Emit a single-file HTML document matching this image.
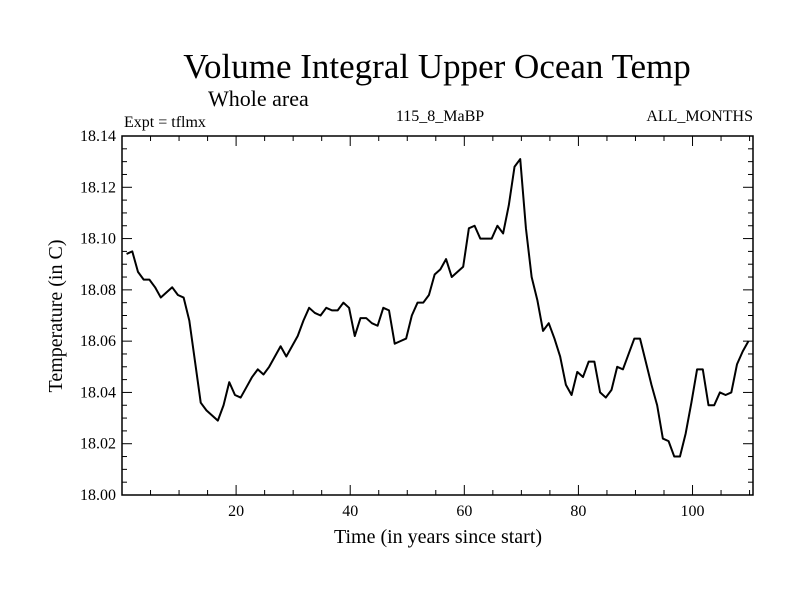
<!DOCTYPE html>
<html><head><meta charset="utf-8"><style>
body{margin:0;background:#fff}
svg text{font-family:"Liberation Serif",serif;fill:#000}
</style></head><body>
<svg id="c" width="800" height="600">
<text x="437" y="78" font-size="35" text-anchor="middle">Volume Integral Upper Ocean Temp</text>
<text x="208" y="106" font-size="22">Whole area</text>
<text x="124" y="127" font-size="16">Expt = tflmx</text>
<text x="440" y="121" font-size="16" text-anchor="middle">115_8_MaBP</text>
<text x="753" y="121" font-size="16" text-anchor="end">ALL_MONTHS</text>
<text x="438" y="543" font-size="20" text-anchor="middle">Time (in years since start)</text>
<text transform="translate(62,316) rotate(-90)" font-size="20" text-anchor="middle">Temperature (in C)</text>
<g id="ax"></g>
</svg>
<script>
const yearsOffset = 0.8;
const temps = [18.094,18.095,18.087,18.084,18.084,18.081,18.077,18.079,18.081,18.078,18.077,18.068,18.052,18.036,18.033,18.031,18.029,18.035,18.044,18.039,18.038,18.042,18.046,18.049,18.047,18.050,18.054,18.058,18.054,18.058,18.062,18.068,18.073,18.071,18.070,18.073,18.072,18.072,18.075,18.073,18.062,18.069,18.069,18.067,18.066,18.073,18.072,18.059,18.060,18.061,18.070,18.075,18.075,18.078,18.086,18.088,18.092,18.085,18.087,18.089,18.104,18.105,18.100,18.100,18.100,18.105,18.102,18.113,18.128,18.131,18.104,18.085,18.076,18.064,18.067,18.061,18.054,18.043,18.039,18.048,18.046,18.052,18.052,18.040,18.038,18.041,18.050,18.049,18.055,18.061,18.061,18.052,18.043,18.035,18.022,18.021,18.015,18.015,18.024,18.036,18.049,18.049,18.035,18.035,18.040,18.039,18.040,18.051,18.056,18.060];
const years = temps.map((_, i) => i + yearsOffset);
const xTicks = [20,40,60,80,100];
const yTicks = [18.00,18.02,18.04,18.06,18.08,18.10,18.12,18.14];
const L=122,R=753,T=136,B=495,X0=0,X1=110.6,Y0=18.0,Y1=18.14;
const sx=v=>L+(v-X0)/(X1-X0)*(R-L);
const sy=v=>B-(v-Y0)/(Y1-Y0)*(B-T);
const NS='http://www.w3.org/2000/svg';
const g=document.getElementById('ax');
function mk(tag,attrs){const e=document.createElementNS(NS,tag);for(const k in attrs)e.setAttribute(k,attrs[k]);g.appendChild(e);return e;}
const fr=mk('rect',{x:L,y:T,width:R-L,height:B-T,fill:'none',stroke:'#000','stroke-width':1.5});


for(let v=5;v<X1;v+=5){const x=sx(v);const len=(v%20===0)?10:5;
 const t1=mk('line',{x1:x,y1:B,x2:x,y2:B-len,stroke:'#000'});
 
 
 const t2=mk('line',{x1:x,y1:T,x2:x,y2:T+len,stroke:'#000'});
 
 }
xTicks.forEach(v=>{const t=mk('text',{x:sx(v),y:B+21,'font-size':16,'text-anchor':'middle'});t.textContent=v;
 
 });
for(let k=1;k<28;k++){const v=Y0+k*0.005;const y=sy(v);const len=(k%4===0)?10:5;
 const t1=mk('line',{x1:L,y1:y,x2:L+len,y2:y,stroke:'#000'});
 
 
 const t2=mk('line',{x1:R,y1:y,x2:R-len,y2:y,stroke:'#000'});
 
 }
yTicks.forEach(v=>{const t=mk('text',{x:L-6,y:sy(v)+5,'font-size':16,'text-anchor':'end'});t.textContent=v.toFixed(2);
 
 });
const p=mk('polyline',{points:years.map((x,i)=>sx(x)+','+sy(temps[i])).join(' '),fill:'none',stroke:'#000','stroke-width':2,'stroke-linejoin':'round'});


</script>
</body></html>
